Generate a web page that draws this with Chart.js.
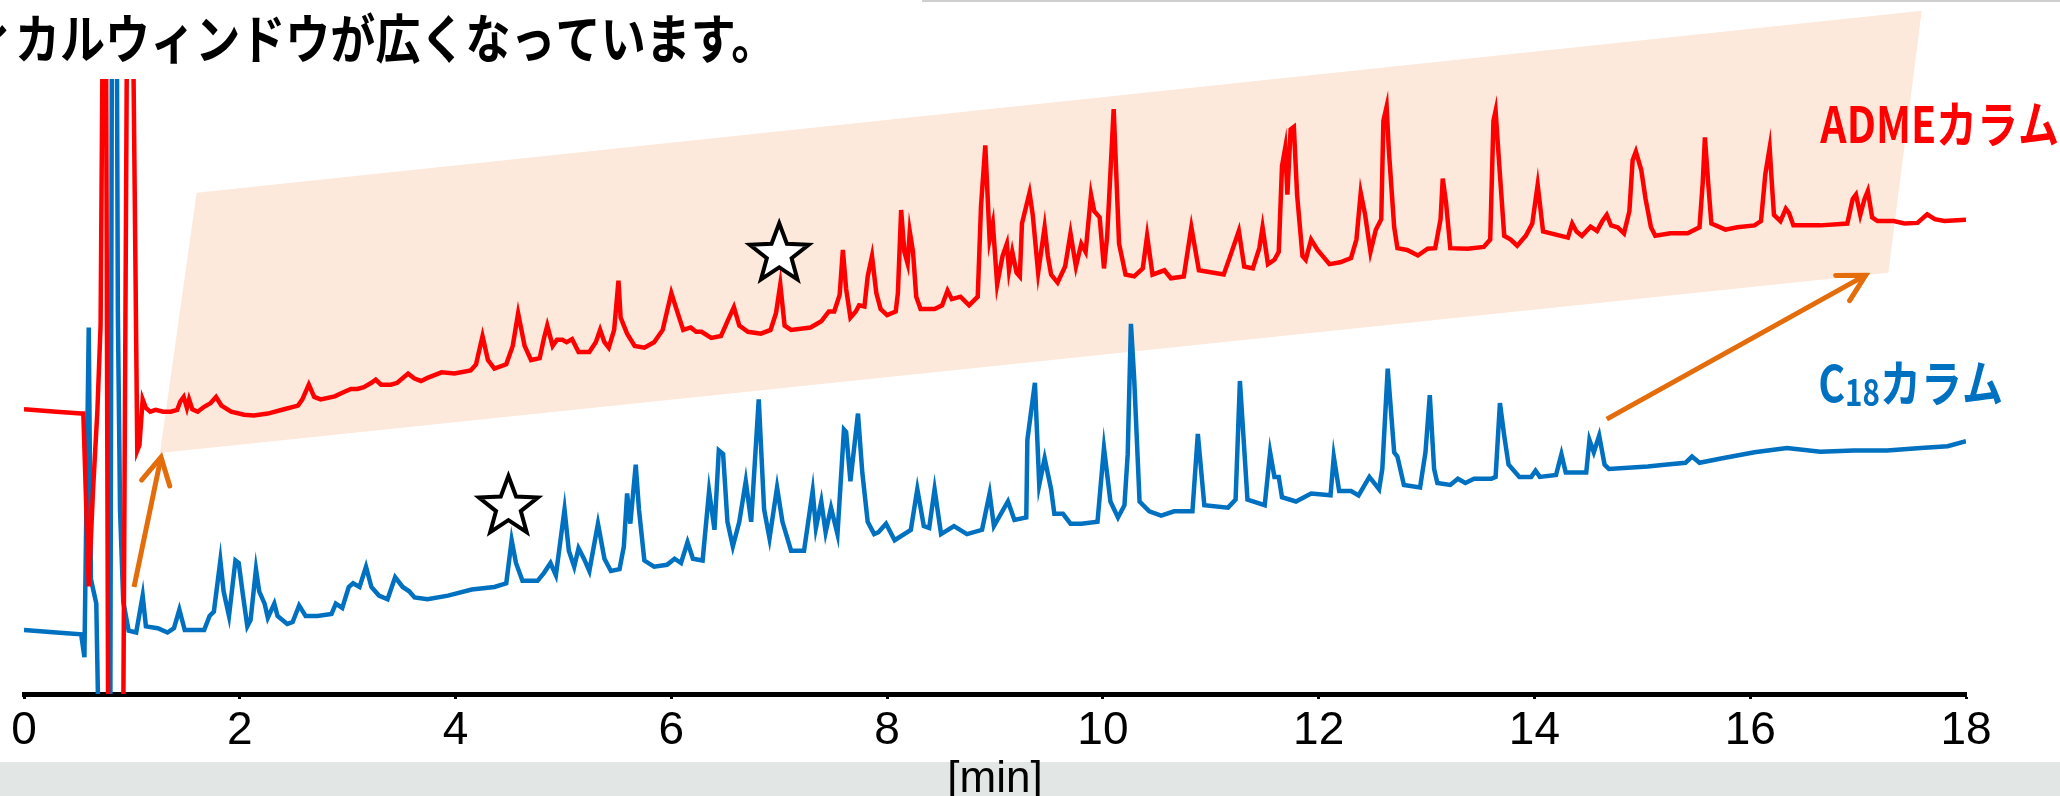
<!DOCTYPE html>
<html lang="ja">
<head>
<meta charset="UTF-8">
<title>ADMEカラム / C18カラム クロマトグラム</title>
<script src="https://cdn.jsdelivr.net/npm/chart.js"></script>
<style>
    body {
        margin: 0;
        width: 2060px;
        height: 796px;
        overflow: hidden;
        background: #fff;
        position: relative;
    }
    .band {
        position: absolute;
        left: 0;
        top: 762px;
        width: 2060px;
        height: 34px;
        background: #e2e6e5;
    }
    .topline {
        position: absolute;
        left: 922px;
        top: 0;
        width: 1138px;
        height: 2px;
        background: #cfcfcf;
    }
    canvas {
        position: absolute;
        left: 0;
        top: 0;
    }
</style>
</head>
<body>
<div class="band"></div>
<div class="topline"></div>
<canvas id="chrom" width="2060" height="796"></canvas>

<script>
// 横軸
const xTicks = [0, 2, 4, 6, 8, 10, 12, 14, 16, 18];

// C18カラム (青)
const blueTime = [0.00, 0.30, 0.53, 0.56, 0.60, 0.62, 0.67, 0.69, 0.80, 0.815, 0.86, 0.87, 0.89, 0.92, 0.97,
    1.04, 1.10, 1.13, 1.24, 1.33, 1.39, 1.44, 1.49, 1.67, 1.72, 1.76, 1.82, 1.85, 1.90, 1.96, 1.99,
    2.03, 2.07, 2.10, 2.15, 2.18, 2.23, 2.26, 2.32, 2.35, 2.44, 2.49, 2.55, 2.61, 2.72, 2.85, 2.89, 2.95,
    3.01, 3.05, 3.11, 3.17, 3.22, 3.29, 3.37, 3.44, 3.51, 3.57, 3.62, 3.74, 3.93,
    4.15, 4.36, 4.47, 4.52, 4.56, 4.62, 4.76, 4.82, 4.88, 4.93,
    5.01, 5.05, 5.10, 5.14, 5.19, 5.24, 5.32, 5.38, 5.44, 5.52, 5.56, 5.59, 5.62, 5.67, 5.70, 5.75, 5.84, 5.96,
    6.03, 6.09, 6.15, 6.20, 6.29, 6.35, 6.40, 6.44, 6.48, 6.52, 6.57, 6.63, 6.69, 6.74, 6.81, 6.86, 6.91, 6.98,
    7.03, 7.11, 7.23, 7.31, 7.34, 7.39, 7.43, 7.48, 7.54, 7.60, 7.62, 7.66, 7.73, 7.77, 7.82, 7.88, 7.92, 7.99,
    8.07, 8.22, 8.28, 8.34, 8.39, 8.44, 8.50, 8.62, 8.74, 8.88, 8.95, 8.99,
    9.12, 9.18, 9.29, 9.30, 9.37, 9.41, 9.46, 9.52, 9.55, 9.63, 9.70, 9.80, 9.95,
    10.01, 10.07, 10.14, 10.20, 10.23, 10.26, 10.29, 10.34, 10.43, 10.54, 10.66, 10.83, 10.88, 10.94,
    11.16, 11.23, 11.27, 11.34, 11.50, 11.55, 11.59, 11.63, 11.66, 11.79, 11.93,
    12.11, 12.14, 12.19, 12.30, 12.37, 12.47, 12.56, 12.59, 12.64, 12.70, 12.73, 12.79, 12.94, 12.99,
    13.03, 13.07, 13.10, 13.22, 13.29, 13.36, 13.44, 13.60, 13.64, 13.68, 13.72, 13.76, 13.86, 13.97,
    14.01, 14.05, 14.20, 14.25, 14.29, 14.48, 14.51, 14.55, 14.60, 14.65, 14.69,
    15.05, 15.23, 15.40, 15.46, 15.53, 15.73, 16.04, 16.34, 16.65, 16.96, 17.27, 17.58, 17.83, 18.00];
const blueSignal = [10.4, 10.0, 9.7, 6.0, 59.6, 18.7, 14.7, -5, -5, 110, 110, 62, 30, 15, 10.3,
    10.0, 16.0, 11.0, 10.7, 10.0, 10.7, 13.7, 10.4, 10.4, 12.7, 13.4, 21.7, 16.7, 12.7, 21.7, 21.3,
    16.0, 11.0, 12.0, 20.3, 16.7, 14.7, 12.4, 14.7, 12.7, 11.4, 11.7, 14.4, 12.7, 12.7, 13.0, 14.7, 14.0,
    17.4, 18.0, 17.4, 20.7, 17.4, 16.0, 15.4, 19.0, 17.4, 16.7, 15.7, 15.4, 16.0,
    17.0, 17.4, 18.0, 25.0, 21.3, 18.4, 18.4, 19.7, 21.3, 19.3,
    30.0, 23.3, 20.7, 23.7, 22.0, 20.0, 27.7, 22.0, 20.0, 20.3, 24.0, 32.6, 27.7, 37.3, 30.0, 21.7, 20.7, 21.0,
    22.0, 21.3, 24.7, 22.0, 21.7, 33.0, 26.7, 39.6, 39.0, 28.0, 24.0, 28.0, 34.6, 28.0, 47.9, 30.0, 25.3, 33.6,
    28.0, 23.3, 23.3, 33.0, 27.0, 31.3, 26.3, 30.3, 26.0, 43.0, 42.6, 34.6, 45.6, 36.0, 28.0, 26.0, 26.3, 27.7,
    25.0, 26.7, 33.3, 27.3, 27.0, 33.3, 26.0, 27.3, 26.0, 26.7, 32.6, 27.3,
    31.3, 28.3, 28.7, 41.3, 50.6, 34.0, 38.3, 33.3, 29.3, 29.3, 27.7, 27.7, 28.0,
    40.0, 31.3, 28.7, 30.7, 39.0, 60.2, 51.3, 31.3, 29.7, 29.0, 29.7, 29.7, 42.3, 30.7,
    30.3, 31.6, 50.9, 31.6, 30.7, 39.3, 35.3, 35.3, 32.0, 31.3, 32.6,
    32.3, 38.6, 33.0, 33.0, 32.3, 35.3, 33.3, 36.6, 52.9, 39.3, 38.6, 34.0, 33.6, 39.3,
    48.6, 36.6, 34.3, 34.0, 35.0, 34.3, 35.0, 35.0, 35.3, 47.3, 42.0, 37.3, 35.3, 35.3,
    36.3, 35.3, 35.6, 39.0, 36.0, 36.0, 41.3, 39.3, 42.0, 37.3, 36.6,
    37.0, 37.3, 37.6, 38.6, 37.6, 38.3, 39.3, 40.0, 39.4, 39.6, 39.6, 40.0, 40.3, 41.1];

// ADMEカラム (赤)
const redTime = [0.00, 0.30, 0.53, 0.55, 0.60, 0.64, 0.68, 0.71, 0.73, 0.76, 0.78, 0.92, 0.955,
    1.01, 1.05, 1.07, 1.10, 1.13, 1.17, 1.22, 1.29, 1.36, 1.42, 1.45, 1.48, 1.51, 1.53, 1.56, 1.61, 1.67, 1.73, 1.78, 1.83, 1.92,
    2.04, 2.13, 2.26, 2.41, 2.54, 2.58, 2.64, 2.69, 2.75, 2.88, 2.94,
    3.03, 3.09, 3.15, 3.22, 3.26, 3.31, 3.40, 3.46, 3.56, 3.62, 3.68, 3.74, 3.87, 3.99,
    4.14, 4.19, 4.25, 4.30, 4.36, 4.47, 4.53, 4.58, 4.64, 4.70, 4.78, 4.82, 4.85, 4.90, 4.94, 4.99,
    5.03, 5.08, 5.14, 5.24, 5.30, 5.34, 5.38, 5.42, 5.47, 5.51, 5.53, 5.59, 5.66, 5.75, 5.84, 5.92,
    6.00, 6.06, 6.11, 6.18, 6.23, 6.28, 6.37, 6.46, 6.52, 6.58, 6.63, 6.71, 6.83, 6.92, 6.97,
    7.01, 7.05, 7.11, 7.29, 7.39, 7.46, 7.51, 7.56, 7.59, 7.62, 7.66, 7.71, 7.74, 7.79, 7.82, 7.86, 7.90, 7.94,
    8.00, 8.08, 8.10, 8.13, 8.16, 8.19, 8.21, 8.24, 8.27, 8.31, 8.44, 8.51, 8.56, 8.60, 8.68, 8.76, 8.84, 8.87, 8.91, 8.95, 8.98,
    9.02, 9.07, 9.11, 9.13, 9.16, 9.20, 9.23, 9.25, 9.32, 9.35, 9.40, 9.46, 9.49, 9.52, 9.58, 9.65, 9.70, 9.75, 9.80, 9.84, 9.89, 9.92, 9.97,
    10.01, 10.04, 10.10, 10.15, 10.21, 10.29, 10.37, 10.41, 10.46, 10.57, 10.63, 10.75, 10.82, 10.89,
    11.12, 11.18, 11.26, 11.31, 11.39, 11.45, 11.48, 11.53, 11.59, 11.63, 11.66, 11.69, 11.71, 11.74, 11.77, 11.80, 11.85, 11.88, 11.93, 11.99,
    12.10, 12.20, 12.30, 12.35, 12.39, 12.43, 12.48, 12.53, 12.58, 12.60, 12.63, 12.65, 12.70, 12.73, 12.82, 12.92,
    13.01, 13.08, 13.13, 13.15, 13.18, 13.22, 13.38, 13.53, 13.59, 13.62, 13.64, 13.68, 13.72, 13.78, 13.84, 13.92, 13.98,
    14.03, 14.08, 14.31, 14.35, 14.39, 14.44, 14.52, 14.58, 14.63, 14.67, 14.71, 14.77, 14.83, 14.88, 14.91, 14.94, 14.99,
    15.03, 15.08, 15.12, 15.26, 15.42, 15.53, 15.56, 15.58, 15.61, 15.64, 15.77, 15.88,
    16.04, 16.10, 16.14, 16.18, 16.20, 16.22, 16.28, 16.33, 16.36, 16.40, 16.65, 16.90, 16.95, 16.98,
    17.02, 17.06, 17.09, 17.13, 17.18, 17.33, 17.43, 17.55, 17.64, 17.71, 17.80, 18.00];
const redSignal = [46.3, 45.9, 45.6, 45.6, 17.5, 33.2, 46.0, 60.0, 110, 110, -5, -5, 110,
    110, 39.6, 40.5, 47.9, 46.5, 45.9, 46.2, 45.9, 45.9, 46.2, 47.6, 48.3, 46.5, 47.9, 46.3, 45.9, 46.7, 47.3, 48.3, 46.9, 45.9,
    45.4, 45.3, 45.6, 46.3, 46.9, 47.9, 50.3, 48.3, 47.9, 48.4, 48.9,
    49.6, 49.6, 49.9, 50.6, 51.1, 50.3, 50.3, 50.6, 52.1, 51.3, 50.9, 51.4, 52.3, 52.1,
    52.6, 53.6, 58.2, 54.3, 52.9, 53.6, 56.6, 61.9, 56.6, 54.3, 54.6, 57.9, 59.9, 56.6, 57.6, 57.6,
    57.2, 57.7, 55.6, 55.6, 57.2, 59.2, 57.2, 56.3, 59.2, 67.2, 61.2, 58.6, 56.6, 56.3, 57.2, 59.2,
    65.2, 61.9, 59.2, 59.6, 58.9, 58.9, 57.9, 58.2, 60.6, 62.9, 59.9, 58.9, 58.6, 59.2, 61.9,
    66.6, 59.9, 59.2, 59.6, 60.6, 62.2, 62.2, 64.9, 72.2, 65.9, 61.2, 62.2, 63.2, 63.0, 67.9, 71.2, 65.2, 62.6,
    61.6, 62.2, 65.2, 78.7, 71.9, 70.0, 75.2, 71.9, 64.6, 62.6, 62.6, 63.2, 65.6, 64.2, 64.6, 63.2, 64.6, 79.2, 89.2, 73.9, 76.5,
    66.6, 71.2, 73.2, 68.9, 71.9, 68.5, 67.9, 76.5, 81.5, 77.9, 68.5, 75.9, 71.2, 68.2, 66.9, 69.5, 74.9, 69.5, 73.2, 71.9, 81.2, 78.5, 77.5,
    69.2, 74.5, 95.1, 73.2, 68.2, 67.9, 69.2, 74.5, 68.2, 68.9, 67.6, 67.9, 75.9, 68.9,
    68.2, 71.2, 75.3, 69.5, 69.2, 72.5, 75.9, 69.9, 70.6, 71.9, 85.8, 88.8, 81.2, 91.8, 92.2, 81.2, 71.2, 70.6, 73.9, 72.2,
    69.9, 70.2, 70.9, 73.9, 81.5, 78.0, 71.9, 75.5, 77.2, 93.2, 95.5, 88.5, 75.9, 72.5, 72.2, 71.3,
    72.4, 72.5, 77.2, 83.8, 80.0, 72.5, 72.4, 72.7, 73.9, 93.2, 94.8, 84.5, 74.5, 73.9, 72.9, 74.5, 76.5,
    82.8, 75.2, 74.2, 76.5, 75.2, 74.5, 76.0, 75.3, 76.9, 77.9, 76.2, 75.9, 74.9, 78.5, 86.8, 88.2, 85.2,
    80.5, 75.9, 74.5, 74.9, 74.9, 75.9, 83.2, 90.5, 83.2, 76.5, 75.5, 75.9,
    76.2, 76.9, 84.5, 88.8, 83.2, 77.9, 76.9, 78.9, 78.2, 76.2, 76.2, 76.5, 80.5, 81.2,
    77.9, 80.5, 81.8, 77.5, 76.9, 76.9, 76.5, 76.6, 78.0, 77.2, 76.9, 77.1];

const RED = '#ff0000';
const BLUE = '#0070c0';
const ORANGE = '#e46c0a';
const JP = '"Noto Sans CJK JP", sans-serif';
const AXISFONT = '"Liberation Sans", Arial, sans-serif';

function toPoints(ts, vs) {
    return ts.map((t, i) => ({ x: t, y: vs[i] }));
}

// 注釈は軸の値で置く
function px(chart, t, v) {
    return [chart.scales.x.getPixelForValue(t), chart.scales.y.getPixelForValue(v)];
}

function drawStar(ctx, cx, cy, R) {
    const r = R * 0.42;
    ctx.beginPath();
    for (let i = 0; i < 10; i++) {
        const a = -Math.PI / 2 + i * Math.PI / 5;
        const rr = i % 2 === 0 ? R : r;
        const x = cx + rr * Math.cos(a), y = cy + rr * Math.sin(a);
        if (i === 0) ctx.moveTo(x, y); else ctx.lineTo(x, y);
    }
    ctx.closePath();
    ctx.fillStyle = '#fff';
    ctx.fill();
    ctx.lineWidth = 4;
    ctx.strokeStyle = '#000';
    ctx.lineJoin = 'miter';
    ctx.stroke();
}

function drawArrow(ctx, x1, y1, x2, y2) {
    const ang = Math.atan2(y2 - y1, x2 - x1);
    const L = 30;
    ctx.strokeStyle = ORANGE;
    ctx.lineWidth = 5;
    ctx.lineCap = 'butt';
    ctx.beginPath();
    ctx.moveTo(x1, y1);
    ctx.lineTo(x2, y2);
    ctx.stroke();
    ctx.lineCap = 'round';
    ctx.beginPath();
    ctx.moveTo(x2 - L * Math.cos(ang - 0.5), y2 - L * Math.sin(ang - 0.5));
    ctx.lineTo(x2, y2);
    ctx.lineTo(x2 - L * Math.cos(ang + 0.5), y2 - L * Math.sin(ang + 0.5));
    ctx.stroke();
}

const windowBand = {
    id: 'windowBand',
    beforeDatasetsDraw(chart) {
        const ctx = chart.ctx;
        const corners = [[1.60, 81.5], [17.59, 111.1], [17.28, 68.5], [1.26, 39.2]];
        ctx.save();
        ctx.fillStyle = '#fce9db';
        ctx.beginPath();
        corners.forEach((c, i) => {
            const p = px(chart, c[0], c[1]);
            if (i === 0) ctx.moveTo(p[0], p[1]); else ctx.lineTo(p[0], p[1]);
        });
        ctx.closePath();
        ctx.fill();
        ctx.restore();
    }
};

const notes = {
    id: 'notes',
    afterDatasetsDraw(chart) {
        const ctx = chart.ctx;
        ctx.save();

        // 矢印
        let a = px(chart, 1.02, 17.4), b = px(chart, 1.27, 38.5);
        drawArrow(ctx, a[0], a[1], b[0], b[1]);
        a = px(chart, 14.67, 44.7); b = px(chart, 17.07, 68.1);
        drawArrow(ctx, a[0], a[1], b[0], b[1]);

        // 星
        let s = px(chart, 7.00, 71.5);
        drawStar(ctx, s[0], s[1], 31);
        s = px(chart, 4.49, 30.4);
        drawStar(ctx, s[0], s[1], 31);

        // カラム名
        ctx.textBaseline = 'alphabetic';
        ctx.textAlign = 'left';
        let p = px(chart, 16.65, 89.6);
        ctx.save();
        ctx.translate(p[0], p[1]);
        ctx.scale(0.82, 1);
        ctx.fillStyle = RED;
        ctx.font = 'bold 50px ' + JP;
        ctx.fillText('ADMEカラム', 0, 0);
        ctx.restore();

        p = px(chart, 16.63, 47.5);
        ctx.save();
        ctx.translate(p[0], p[1]);
        ctx.scale(0.82, 1);
        ctx.fillStyle = BLUE;
        ctx.font = 'bold 50px ' + JP;
        ctx.fillText('C', 0, 0);
        let w = ctx.measureText('C').width;
        ctx.font = 'bold 36px ' + JP;
        ctx.fillText('18', w, 4);
        w += ctx.measureText('18').width;
        ctx.font = 'bold 50px ' + JP;
        ctx.fillText('カラム', w, 0);
        ctx.restore();

        ctx.restore();
    },
    afterDraw(chart) {
        // 見出し (左端が切れている)
        const ctx = chart.ctx;
        ctx.save();
        ctx.font = 'bold 53px ' + JP;
        ctx.fillStyle = '#000';
        ctx.textBaseline = 'alphabetic';
        const head = 'アナリティ';
        const sx = 0.85;
        const off = ctx.measureText(head).width * sx;
        ctx.translate(15 - off, 59);
        ctx.scale(sx, 1);
        ctx.fillText(head + 'カルウィンドウが広くなっています。', 0, 0);
        ctx.restore();
    }
};

new Chart(document.getElementById('chrom'), {
    type: 'line',
    data: {
        datasets: [
            {
                label: 'C18カラム',
                data: toPoints(blueTime, blueSignal),
                borderColor: BLUE,
                borderWidth: 4.5,
                borderJoin: 'round',
                pointRadius: 0,
                tension: 0,
                order: 2
            },
            {
                label: 'ADMEカラム',
                data: toPoints(redTime, redSignal),
                borderColor: RED,
                borderWidth: 4.5,
                borderJoin: 'round',
                pointRadius: 0,
                tension: 0,
                order: 1
            }
        ]
    },
    options: {
        responsive: false,
        devicePixelRatio: 1,
        animation: false,
        layout: { padding: { top: 79, left: 24, right: 94, bottom: 0 } },
        plugins: {
            legend: { display: false },
            tooltip: { enabled: false }
        },
        scales: {
            x: {
                type: 'linear',
                min: 0,
                max: 18,
                afterBuildTicks(scale) {
                    scale.ticks = xTicks.map(v => ({ value: v }));
                },
                ticks: {
                    color: '#000',
                    padding: 9,
                    font: { family: AXISFONT, size: 46, lineHeight: 1 }
                },
                grid: {
                    drawOnChartArea: false,
                    drawTicks: true,
                    tickLength: 5,
                    tickWidth: 3,
                    tickColor: '#000'
                },
                border: { display: true, color: '#000', width: 5 },
                title: {
                    display: true,
                    text: '[min]',
                    color: '#000',
                    padding: { top: 0, bottom: 0 },
                    font: { family: AXISFONT, size: 44, lineHeight: 0.75 }
                }
            },
            y: {
                display: false,
                min: 0,
                max: 100
            }
        }
    },
    plugins: [windowBand, notes]
});
</script>
</body>
</html>
